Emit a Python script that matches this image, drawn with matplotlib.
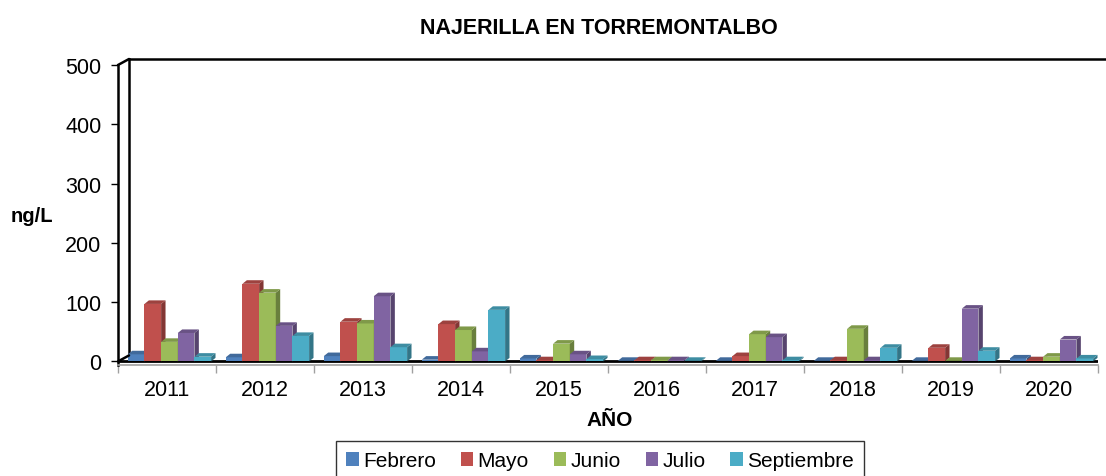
#!/usr/bin/env python3
"""Najerilla en Torremontalbo - barras pseudo 3D"""

import matplotlib
matplotlib.use('Agg')
import matplotlib.pyplot as plt
import matplotlib.patches as patches
from matplotlib.transforms import offset_copy
import numpy as np

plt.rcParams.update({
    'font.family': ['Liberation Sans', 'DejaVu Sans'],
    'font.size': 15,
})

years = ['2011', '2012', '2013', '2014', '2015', '2016', '2017', '2018', '2019', '2020']
meses = ['Febrero', 'Mayo', 'Junio', 'Julio', 'Septiembre']
febrero = [12, 7, 9, 3, 5, 1, 1, 1, 1, 5]
mayo = [97, 131, 67, 63, 2, 2, 9, 2, 23, 2]
junio = [33, 116, 64, 53, 30, 2, 46, 55, 1, 8]
julio = [48, 60, 110, 17, 12, 2, 41, 2, 89, 37]
septiembre = [8, 43, 24, 87, 4, 1, 2, 23, 18, 5]
series = [febrero, mayo, junio, julio, septiembre]
colors = ['#4F81BD', '#C0504D', '#9BBB59', '#8064A2', '#4BACC6']


def shade(c, f):
    r, g, b = matplotlib.colors.to_rgb(c)
    return (r * f, g * f, b * f)


fig = plt.figure(figsize=(11.06, 4.77), dpi=100)
ax = fig.add_axes([118 / 1106, 1 - 366 / 477, (1098 - 118) / 1106, (366 - 66) / 477])

x = np.arange(len(years))
w = 0.17
dx, dy = 0.045, 6

for k, (vals, col) in enumerate(zip(series, colors)):
    pos = x - 0.40 + w / 2 + k * w
    bars = ax.bar(pos, vals, width=w, color=col, zorder=3, label=meses[k])
    for b in bars:
        x0, x1, h = b.get_x(), b.get_x() + b.get_width(), b.get_height()
        side = patches.Polygon([(x1, 0), (x1, h), (x1 + dx, h + dy), (x1 + dx, dy)],
                               closed=True, facecolor=shade(col, 0.68), edgecolor='none', zorder=3)
        top = patches.Polygon([(x0, h), (x1, h), (x1 + dx, h + dy), (x0 + dx, h + dy)],
                              closed=True, facecolor=shade(col, 0.82), edgecolor='none', zorder=3)
        ax.add_patch(side)
        ax.add_patch(top)

ax.set_xlim(-0.5, 9.5)
ax.set_ylim(-6, 500)
ax.set_yticks([0, 100, 200, 300, 400, 500])
ax.set_xticks(x)
ax.set_xticklabels(years)
ax.set_xticks(np.arange(-0.5, 10, 1), minor=True)
ax.tick_params(axis='x', which='major', length=0, pad=10, labelsize=15.5)
ax.tick_params(axis='x', which='minor', length=6, color='#A0A0A0', width=1)
ax.tick_params(axis='y', length=5, width=1, labelsize=15.5, pad=7)

for s in ['top', 'right']:
    ax.spines[s].set_visible(False)
ax.spines['left'].set_bounds(-6, 500)
ax.spines['left'].set_linewidth(1.8)
ax.spines['bottom'].set_color('#A0A0A0')
ax.spines['bottom'].set_linewidth(1.2)

# pared y suelo 3D
trans = offset_copy(ax.transData, fig=fig, x=11, y=6, units='dots')
ax.axhline(0, color='black', lw=2, zorder=2)
ax.plot([-0.5, -0.5], [0, 500], color='black', lw=1.8, transform=trans, clip_on=False)
ax.plot([-0.5, 9.6], [500, 500], color='black', lw=1.8, transform=trans, clip_on=False)
for yy in [0, 500]:
    con = patches.ConnectionPatch((-0.5, yy), (-0.5, yy), coordsA=ax.transData, coordsB=trans,
                                  color='black', lw=1.8)
    fig.add_artist(con)

fig.text(599 / 1106, 1 - 28 / 477, 'NAJERILLA EN TORREMONTALBO', ha='center', va='center',
         fontsize=15.5, fontweight='bold')
fig.text(32 / 1106, 1 - 217 / 477, 'ng/L', ha='center', va='center', fontsize=14.5, fontweight='bold')
fig.text(610 / 1106, 1 - 421 / 477, 'AÑO', ha='center', va='center', fontsize=15, fontweight='bold')

leg = fig.legend(loc='upper center', bbox_to_anchor=(600 / 1106, 1 - 442 / 477), ncol=5,
                 frameon=True, fancybox=False, edgecolor='black', fontsize=15,
                 handlelength=0.6, handleheight=0.6, handletextpad=0.2, columnspacing=1.2,
                 borderpad=0.5, borderaxespad=0)
leg.get_frame().set_linewidth(1)

fig.savefig('out.png', dpi=100, facecolor='white')
